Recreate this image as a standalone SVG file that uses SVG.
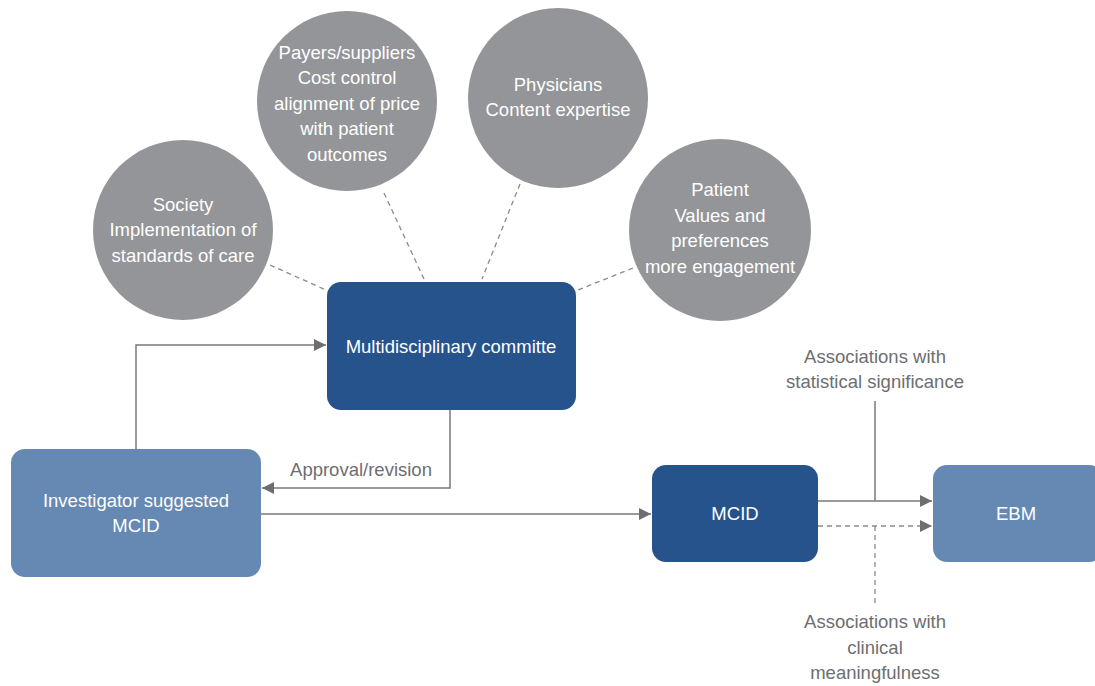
<svg xmlns="http://www.w3.org/2000/svg" width="1095" height="686" viewBox="0 0 1095 686">
<defs>
<style>
.circ{fill:#939598}
.dark{fill:#26538c}
.light{fill:#6589b2}
.wt{font-family:"Liberation Sans",Arial,sans-serif;font-size:18.5px;fill:#ffffff;text-anchor:middle}
.gt{font-family:"Liberation Sans",Arial,sans-serif;font-size:18.5px;fill:#6d6e71;text-anchor:middle}
.ln{stroke:#77787b;stroke-width:1.5;fill:none}
.dash{stroke:#8a8b8e;stroke-width:1.3;fill:none;stroke-dasharray:5 4}
</style>
<marker id="ah" viewBox="0 0 10 10" refX="10" refY="5" markerWidth="16" markerHeight="12" markerUnits="userSpaceOnUse" orient="auto">
<path d="M0,0 L10,5 L0,10 Z" fill="#6d6e71"/>
</marker>
</defs>
<rect width="1095" height="686" fill="#ffffff"/>
<g id="connectors">
<line class="dash" x1="270" y1="265" x2="326" y2="290"/>
<line class="dash" x1="384" y1="193" x2="424" y2="279"/>
<line class="dash" x1="520" y1="184" x2="482" y2="279"/>
<line class="dash" x1="633" y1="268" x2="578" y2="290"/>
<polyline class="ln" points="136,449 136,345 326,345" marker-end="url(#ah)"/>
<polyline class="ln" points="450,410 450,488 262,488" marker-end="url(#ah)"/>
<line class="ln" x1="261" y1="514" x2="651" y2="514" marker-end="url(#ah)"/>
<line class="ln" x1="818" y1="501" x2="932" y2="501" marker-end="url(#ah)"/>
<line class="ln" x1="875" y1="401" x2="875" y2="501"/>
<line class="dash" x1="818" y1="526" x2="932" y2="526" marker-end="url(#ah)"/>
<line class="dash" x1="875" y1="526" x2="875" y2="606"/>
<text class="gt" x="361" y="476">Approval/revision</text>
<text class="gt" x="875" y="363">Associations with</text>
<text class="gt" x="875" y="388">statistical significance</text>
<text class="gt" x="875" y="628">Associations with</text>
<text class="gt" x="875" y="654">clinical</text>
<text class="gt" x="875" y="679">meaningfulness</text>
</g>
<g id="society">
<circle class="circ" cx="183" cy="230" r="90"/>
<text class="wt" x="183" y="211">Society</text>
<text class="wt" x="183" y="236">Implementation of</text>
<text class="wt" x="183" y="262">standards of care</text>
</g>
<g id="payers">
<circle class="circ" cx="347" cy="101" r="90"/>
<text class="wt" x="347" y="59">Payers/suppliers</text>
<text class="wt" x="347" y="84">Cost control</text>
<text class="wt" x="347" y="110">alignment of price</text>
<text class="wt" x="347" y="135">with patient</text>
<text class="wt" x="347" y="161">outcomes</text>
</g>
<g id="physicians">
<circle class="circ" cx="558" cy="98" r="90"/>
<text class="wt" x="558" y="91">Physicians</text>
<text class="wt" x="558" y="116">Content expertise</text>
</g>
<g id="patient">
<circle class="circ" cx="720" cy="230" r="91"/>
<text class="wt" x="720" y="196">Patient</text>
<text class="wt" x="720" y="222">Values and</text>
<text class="wt" x="720" y="247">preferences</text>
<text class="wt" x="720" y="273">more engagement</text>
</g>
<g id="committee">
<rect class="dark" x="327" y="282" width="249" height="128" rx="14"/>
<text class="wt" x="451" y="353">Multidisciplinary committe</text>
</g>
<g id="investigator">
<rect class="light" x="11" y="449" width="250" height="128" rx="14"/>
<text class="wt" x="136" y="507">Investigator suggested</text>
<text class="wt" x="136" y="532">MCID</text>
</g>
<g id="mcid">
<rect class="dark" x="652" y="465" width="166" height="97" rx="14"/>
<text class="wt" x="735" y="520">MCID</text>
</g>
<g id="ebm">
<rect class="light" x="933" y="465" width="170" height="97" rx="14"/>
<text class="wt" x="1016" y="520">EBM</text>
</g>
</svg>
